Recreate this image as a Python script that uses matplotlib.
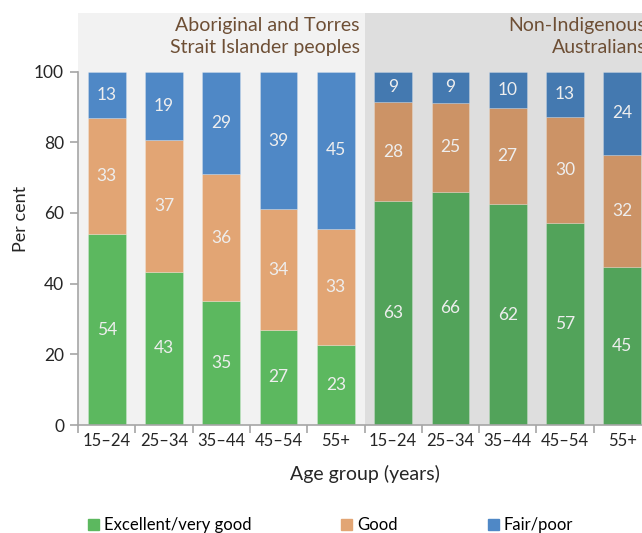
import matplotlib
matplotlib.use('Agg')
import matplotlib.pyplot as plt
import matplotlib.patches as mpatches
import numpy as np

plt.rcParams['font.family'] = ['Lato', 'DejaVu Sans']

# data (per cent, labels shown rounded)
age_groups = ['15–24', '25–34', '35–44', '45–54', '55+']
group_names = ['Aboriginal and Torres\nStrait Islander peoples', 'Non-Indigenous\nAustralians']
categories = ['Excellent/very good', 'Good', 'Fair/poor']

indig_excellent = [54.0, 43.4, 35.0, 27.0, 22.6]
indig_good = [33.0, 37.2, 36.0, 34.0, 32.8]
indig_fair = [13.0, 19.4, 29.0, 39.0, 44.6]

nonindig_excellent = [63.3, 66.0, 62.5, 57.1, 44.8]
nonindig_good = [28.1, 25.2, 27.3, 30.0, 31.6]
nonindig_fair = [8.6, 8.8, 10.2, 12.9, 23.6]

light_colors = ['#5cb85f', '#e2a574', '#4f88c6']
dark_colors = ['#52a35a', '#cc9366', '#4479b0']
grey = '#a6a6a6'
label_color = '#eeeeee'

fig = plt.figure(figsize=(6.42, 5.33), dpi=100)
# axes run off the right edge like the cropped original
ax = fig.add_axes([78 / 642, 108 / 533, 573 / 642, 412 / 533])

ax.axvspan(-0.5, 4.5, color='#f2f2f2', zorder=0, lw=0)
ax.axvspan(4.5, 9.5, color='#dedede', zorder=0, lw=0)

groups = [
    (np.arange(5), [indig_excellent, indig_good, indig_fair], light_colors),
    (np.arange(5) + 5, [nonindig_excellent, nonindig_good, nonindig_fair], dark_colors),
]

width = 0.66
for x, series, colors in groups:
    bottom = np.zeros(len(x))
    for vals, col in zip(series, colors):
        bars = ax.bar(x, vals, width, bottom=bottom, color=col, zorder=2,
                      edgecolor='#ffffff40', linewidth=0.6)
        ax.bar_label(bars, fmt='%.0f', label_type='center',
                     color=label_color, fontsize=12.5)
        bottom += np.array(vals)

# group headings
for gx, name in zip([4.42, 9.42], group_names):
    ax.text(gx, 109.9, name, ha='right', va='center', fontsize=14,
            color='#6e4f35', linespacing=1.38)

ax.set_xlim(-0.5, 9.5)
ax.set_ylim(0, 116.6)
ax.set_yticks(range(0, 101, 20))
ax.set_xticks(range(10))
ax.set_xticklabels(age_groups * 2)
ax.set_xticks(np.arange(-0.5, 10, 1), minor=True)

for side in ['top', 'right']:
    ax.spines[side].set_visible(False)
for side in ['left', 'bottom']:
    ax.spines[side].set_color(grey)
    ax.spines[side].set_linewidth(1.2)
ax.spines['left'].set_bounds(0, 100)

ax.tick_params(axis='y', colors=grey, length=6, width=1.2, labelcolor='#262626',
               labelsize=12.5, pad=4)
ax.tick_params(axis='x', which='major', length=0, labelcolor='#262626',
               labelsize=12, pad=6)
ax.tick_params(axis='x', which='minor', length=6, width=1.2, colors=grey)

ax.set_ylabel('Per cent', fontsize=13, color='#262626', labelpad=4)
ax.set_xlabel('Age group (years)', fontsize=14, color='#262626', labelpad=11)

# legend, one entry per block like the original
legend_x = [88 / 642, 341 / 642, 488 / 642]
for lx, cat, col in zip(legend_x, categories, light_colors):
    handle = mpatches.Patch(color=col, label=cat)
    fig.legend(handles=[handle], loc='center left', bbox_to_anchor=(lx, 8 / 533),
               frameon=False, fontsize=12, handlelength=0.65, handleheight=0.65,
               handletextpad=0.3, borderaxespad=0, borderpad=0)

fig.savefig('out.png', dpi=100)
